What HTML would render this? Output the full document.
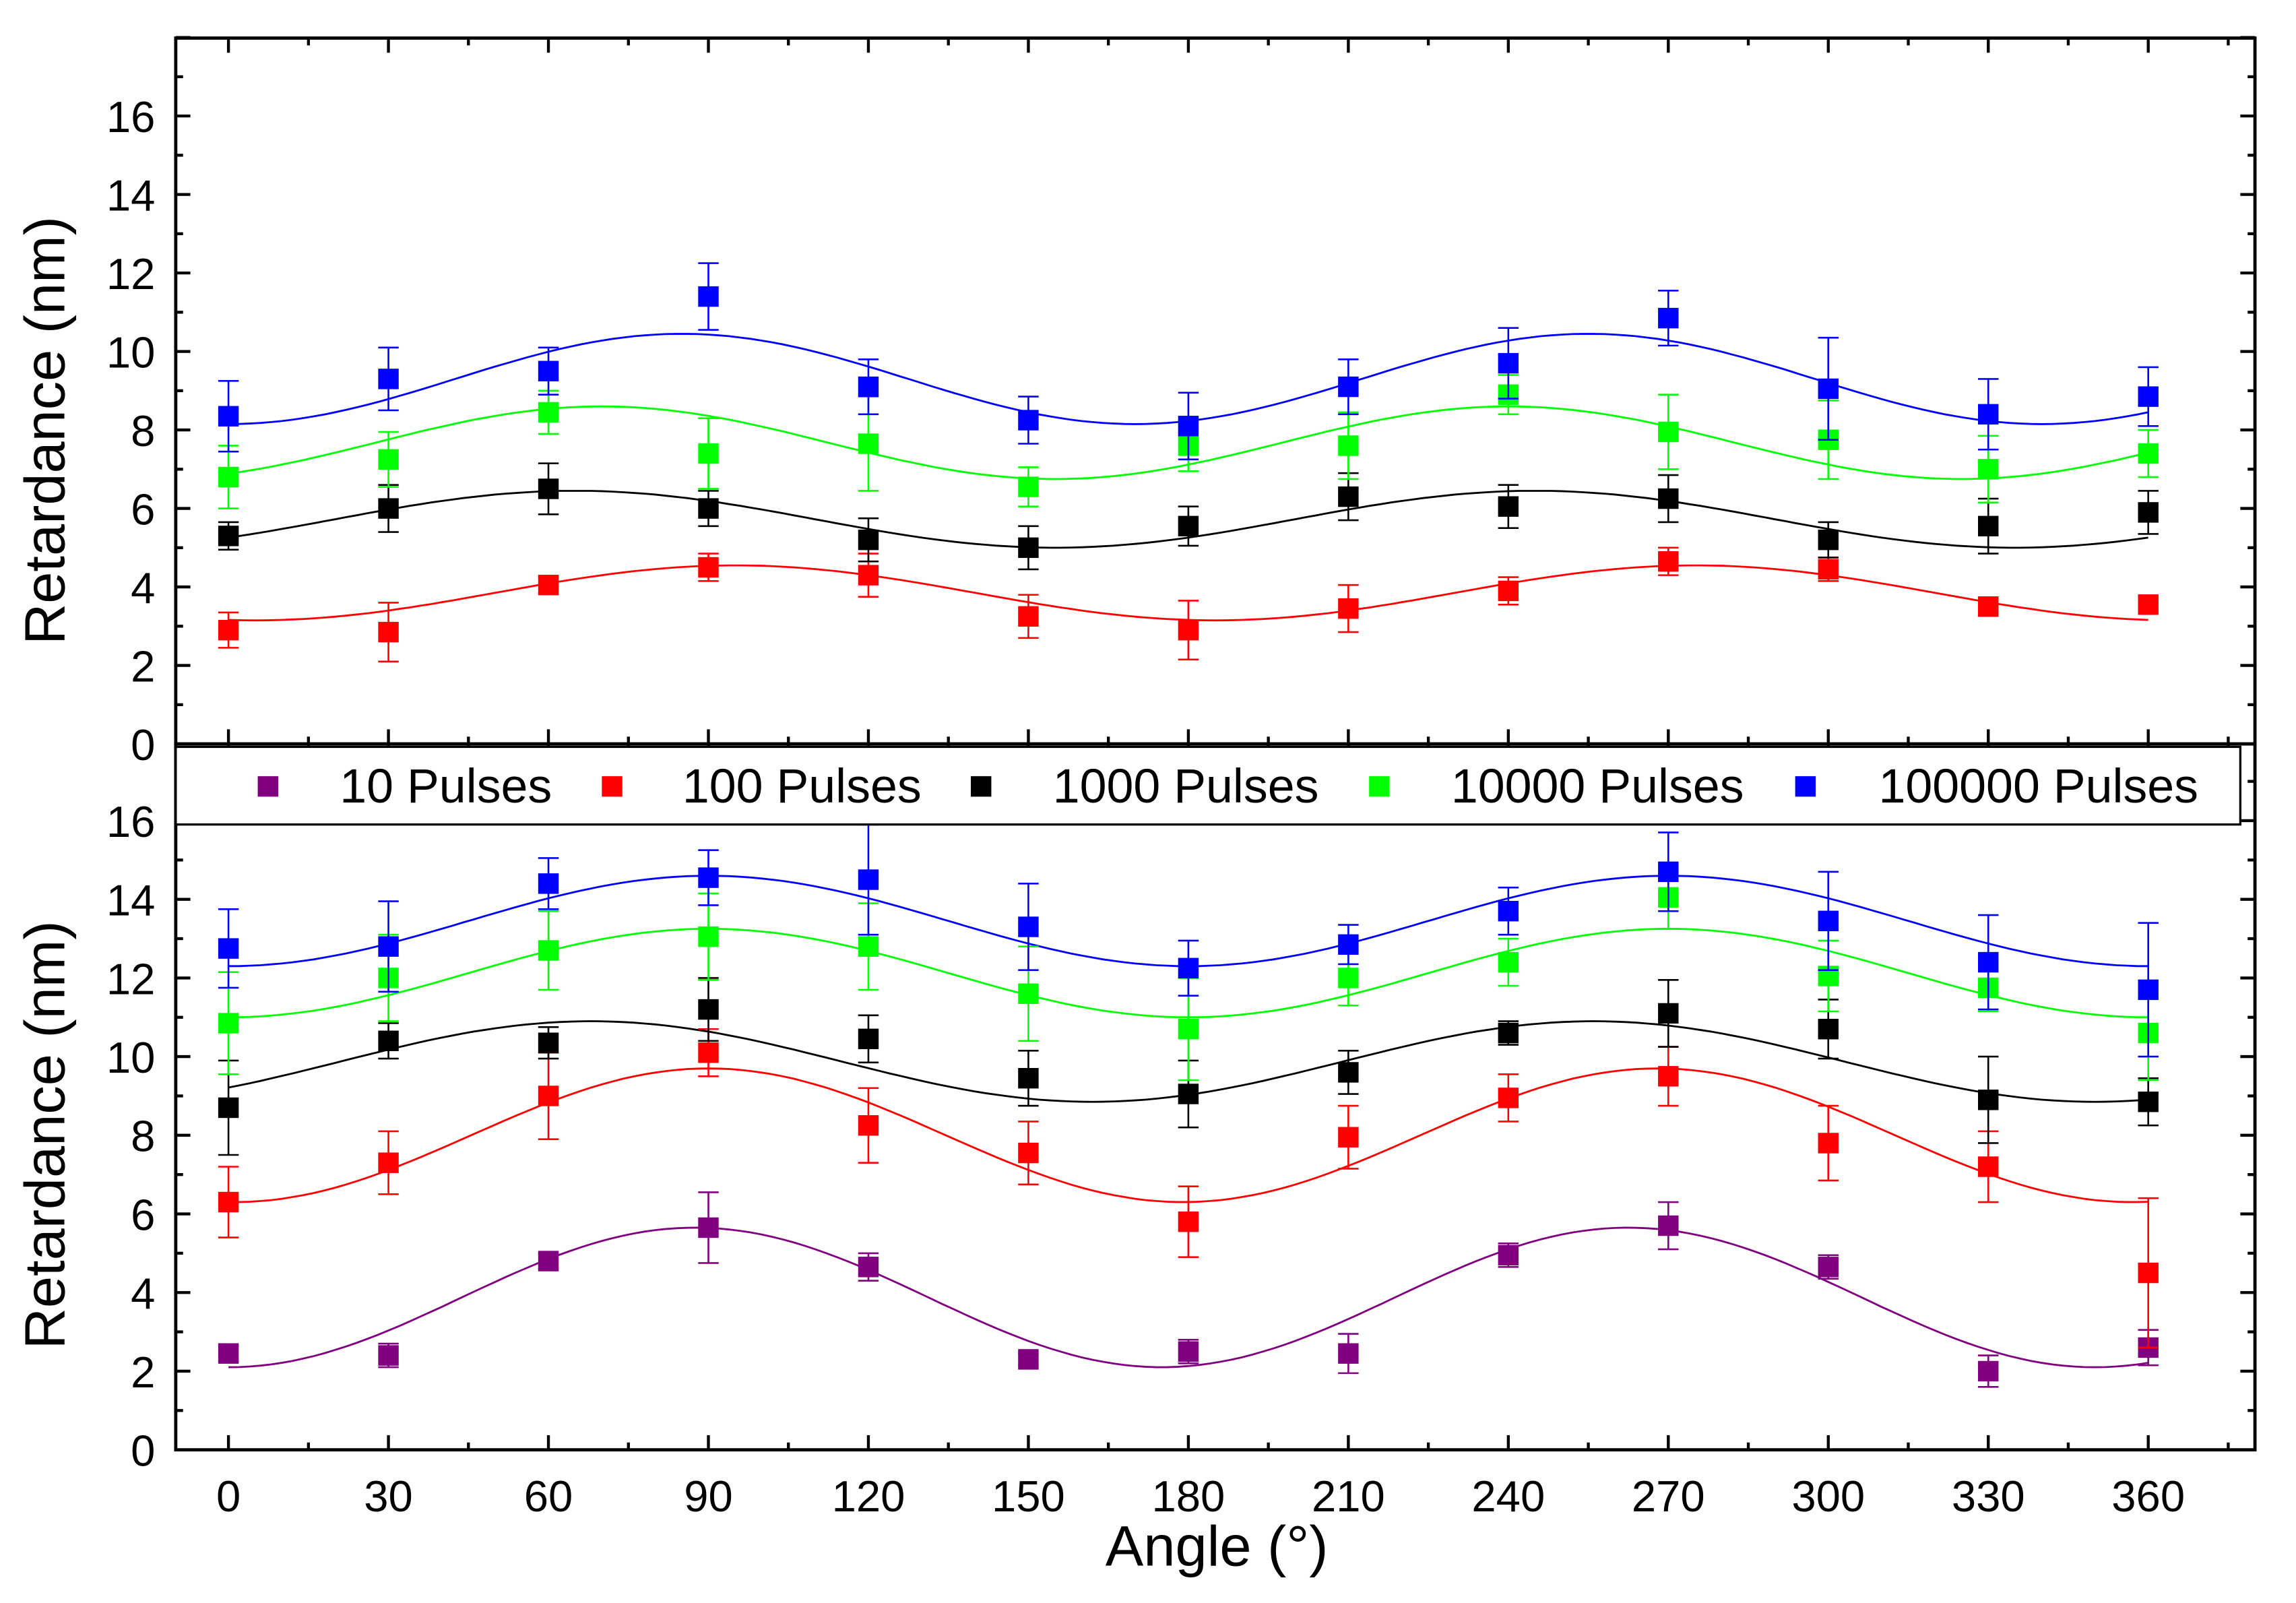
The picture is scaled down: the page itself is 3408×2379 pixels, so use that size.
<!DOCTYPE html>
<html><head><meta charset="utf-8"><style>html,body{margin:0;padding:0;background:#fff}svg{display:block}</style></head>
<body>
<svg id="s" xmlns="http://www.w3.org/2000/svg" width="3408" height="2379" viewBox="0 0 1568 1094.6" font-family="Liberation Sans, Arial, sans-serif">
<rect width="1568" height="1095" fill="#fff"/>
<g id="g"></g>
</svg>
<script>
const g=document.getElementById('g');let h='';
const X=a=>156+a*3.642;
const YT=v=>508-v*26.8, YB=v=>990-v*26.85;
const col={p:'#800080',r:'#ff0000',k:'#000000',gr:'#00ff00',b:'#0000ff'};
function axes(Y,top,bot){
 h+=`<rect x="120" y="${top}" width="1420" height="${bot-top}" fill="none" stroke="#000" stroke-width="2.2"/>`;
 for(let v=0;v<=18;v++){const y=Y(v);if(y<top-1)continue;const L=v%2?5:10;
  h+=`<line x1="120" y1="${y}" x2="${120+L}" y2="${y}" stroke="#000" stroke-width="2"/><line x1="1540" y1="${y}" x2="${1540-L}" y2="${y}" stroke="#000" stroke-width="2"/>`;
  if(v%2==0&&v<=16)h+=`<text x="106" y="${y+11}" font-size="30" text-anchor="end">${v}</text>`;}
 for(let a=0;a<=375;a+=15){const x=X(a);const L=a%30?5:10;
  h+=`<line x1="${x}" y1="${bot}" x2="${x}" y2="${bot-L}" stroke="#000" stroke-width="2"/><line x1="${x}" y1="${top}" x2="${x}" y2="${top+L}" stroke="#000" stroke-width="2"/>`;}
}
axes(YT,26,508);axes(YB,508,990);
function fit(Y,c,cA,amp,per,pk){let d='';for(let a=0;a<=360;a+=2){const v=cA+amp*Math.cos(2*Math.PI*(a-pk)/per);d+=(a?'L':'M')+X(a).toFixed(1)+','+Y(v).toFixed(1);}h+=`<path d="${d}" fill="none" stroke="${c}" stroke-width="1.3"/>`;}
function pts(Y,c,vals,errs){vals.forEach((v,i)=>{const x=X(i*30),e=errs[i];
 h+=`<line x1="${x}" y1="${Y(v-e)}" x2="${x}" y2="${Y(v+e)}" stroke="${c}" stroke-width="1.2"/><line x1="${x-7}" y1="${Y(v+e)}" x2="${x+7}" y2="${Y(v+e)}" stroke="${c}" stroke-width="1.2"/><line x1="${x-7}" y1="${Y(v-e)}" x2="${x+7}" y2="${Y(v-e)}" stroke="${c}" stroke-width="1.2"/><rect x="${x-7}" y="${Y(v)-7}" width="14" height="14" fill="${c}"/>`;});}
fit(YT,col.r,3.85,0.7,180,95);
fit(YT,col.k,5.725,0.725,180,65);
fit(YT,col.gr,7.675,0.925,170,70);
fit(YT,col.b,9.3,1.15,170,85);
pts(YT,col.r,[2.9,2.85,4.05,4.5,4.3,3.25,2.9,3.45,3.9,4.65,4.45,3.5,3.55],[0.45,0.75,0.2,0.35,0.55,0.55,0.75,0.6,0.35,0.35,0.3,0.2,0.2]);
pts(YT,col.k,[5.3,6.0,6.5,6.0,5.2,5.0,5.55,6.3,6.05,6.25,5.2,5.55,5.9],[0.35,0.6,0.65,0.45,0.55,0.55,0.5,0.6,0.55,0.6,0.45,0.7,0.55]);
pts(YT,col.gr,[6.8,7.25,8.45,7.4,7.65,6.55,7.6,7.6,8.9,7.95,7.75,7.0,7.4],[0.8,0.7,0.55,0.9,1.2,0.5,0.65,0.85,0.5,0.95,1.0,0.85,0.6]);
pts(YT,col.b,[8.35,9.3,9.5,11.4,9.1,8.25,8.1,9.1,9.7,10.85,9.05,8.4,8.85],[0.9,0.8,0.6,0.85,0.7,0.6,0.85,0.7,0.9,0.7,1.3,0.9,0.75]);
fit(YB,col.p,3.875,1.775,175,87.5);
fit(YB,col.r,8.0,1.7,178,90);
fit(YB,col.k,9.875,1.025,188,68);
fit(YB,col.gr,12.125,1.125,180,90);
fit(YB,col.b,13.45,1.15,180,90);
pts(YB,col.p,[2.45,2.4,4.8,5.65,4.65,2.3,2.5,2.45,4.95,5.7,4.65,2.0,2.6],[0.2,0.3,0.2,0.9,0.35,0.15,0.3,0.5,0.3,0.6,0.3,0.4,0.45]);
pts(YB,col.r,[6.3,7.3,9.0,10.1,8.25,7.55,5.8,7.95,8.95,9.5,7.8,7.2,4.5],[0.9,0.8,1.1,0.6,0.95,0.8,0.9,0.8,0.6,0.75,0.95,0.9,1.9]);
pts(YB,col.k,[8.7,10.4,10.35,11.2,10.45,9.45,9.05,9.6,10.6,11.1,10.7,8.9,8.85],[1.2,0.45,0.4,0.8,0.6,0.7,0.85,0.55,0.3,0.85,0.75,1.1,0.6]);
pts(YB,col.gr,[10.85,12.0,12.7,13.05,12.8,11.6,10.7,12.0,12.4,14.05,12.05,11.75,10.6],[1.3,1.1,1.0,1.1,1.1,1.2,1.3,0.7,0.6,0.8,0.9,0.6,1.2]);
pts(YB,col.b,[12.75,12.8,14.4,14.55,14.5,13.3,12.25,12.85,13.7,14.7,13.45,12.4,11.7],[1.0,1.15,0.65,0.7,1.4,1.1,0.7,0.5,0.6,1.0,1.25,1.2,1.7]);
h+=`<rect x="120" y="510" width="1410" height="53" fill="#fff" stroke="#000" stroke-width="1.5"/>`;
[[183,232,col.p,'10 Pulses'],[418,466,col.r,'100 Pulses'],[670,719,col.k,'1000 Pulses'],[942,991,col.gr,'10000 Pulses'],[1233,1283,col.b,'100000 Pulses']].forEach(l=>{
 h+=`<rect x="${l[0]-7}" y="530" width="14" height="14" fill="${l[2]}"/><text x="${l[1]}" y="548" font-size="33">${l[3]}</text>`;});
for(let a=0;a<=360;a+=30)h+=`<text x="${X(a)}" y="1032" font-size="30" text-anchor="middle">${a}</text>`;
h+=`<text x="831" y="1069" font-size="39" text-anchor="middle">Angle (°)</text>`;
h+=`<text transform="translate(44,294) rotate(-90)" font-size="39" text-anchor="middle">Retardance (nm)</text>`;
h+=`<text transform="translate(44,775) rotate(-90)" font-size="39" text-anchor="middle">Retardance (nm)</text>`;
g.innerHTML=h;
</script>
</body></html>
